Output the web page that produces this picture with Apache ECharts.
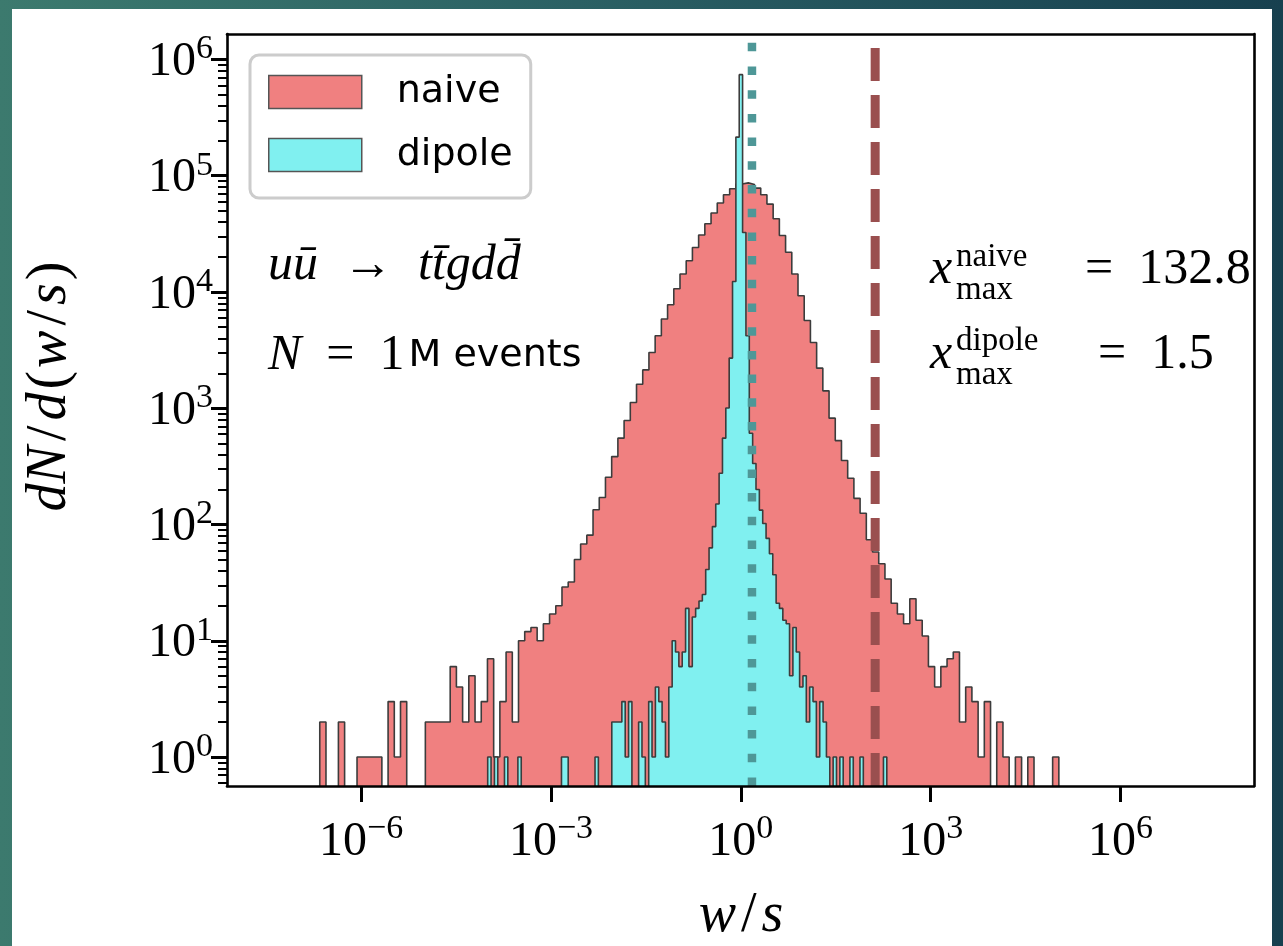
<!DOCTYPE html>
<html><head><meta charset="utf-8">
<script src="https://cdn.jsdelivr.net/npm/echarts@6/dist/echarts.min.js"></script>
<style>
html,body{margin:0;padding:0;width:1283px;height:946px;overflow:hidden;
background:linear-gradient(90deg,#3c7a6e 0%,#2b6064 45%,#17404f 100%);}
#card{position:absolute;left:12px;top:9px;width:1260px;height:937px;background:#fff;}
#chart{position:absolute;left:0;top:0;width:1283px;height:946px;}
</style></head><body><div id="card"></div><div id="chart"></div>
<script>
// ---- data (log10 of w/s for bin ranges, raw counts per bin) ----
const naiveLogMin = -6.654, naiveLogMax = 5.026;
const naiveCounts = [2,0,0,2,0,0,1,1,1,1, 0,3,1,3,0,0,0,2,2,2, 2,6,4,2,5,2,3,7,1,3,
 8,2,10,12,13,10,14,17,20,29, 32,50,68,81,134,171,255,384,553,784,
 1120,1611,2138,3013,4200,5850,7770,10660,14270,18540,
 24150,30900,38640,47760,58240,68600,77200,84800,86800,84000,
 78300,68600,57000,42700,30600,22000,14270,9270,5690,3675,
 2213,1412,822,527,355,250,168,125,74,58,
 46,34,21,17,14,23,15,11,6,4, 6,7,8,2,4,3,1,3,0,2, 1,0,1,0,1,0,0,0,1];
const dipoleLogMin = -4.0, dipoleLogMax = 2.307;
const dipoleCounts = [1,0,1,0,0,1,0,0,0,1, 0,0,0,0,0,0,0,0,0,0,
 0,0,1,1,0,0,0,0,0,0, 0,0,1,0,0,0,0,2,2,2,
 3,1,3,0,0,2,1,0,3,1, 4,3,2,1,4,10,8,6,8,19,
 6,16,19,22,25,41,63,96,150,276, 553,1004,2700,12300,215000,740000,32500,4200,610,335,
 200,133,102,76,56,37,21,19,15,14, 5,13,8,4,5,2,4,3,1,3,
 2,1,0,1,0,1,0,0,1,0, 0,1,0,0,0,0,0,0,1];
const naiveXmax = 132.8, dipoleXmax = 1.5;
const xTickExps = [-6,-3,0,3,6];
const yTickExps = [0,1,2,3,4,5,6];
const X_MIN = -8.12, X_MAX = 8.11, Y_MIN = -0.249, Y_MAX = 6.219;

const yMinor = [];
for (let e = -1; e <= 6; e++) for (let k = 2; k <= 9; k++) {
  const v = Math.log10(k) + e; if (v > Y_MIN && v < Y_MAX) yMinor.push(v);
}
function stepPoints(lo, hi, counts) {
  const n = counts.length, w = (hi - lo) / n, floor = Y_MIN - 1, pts = [[lo, floor]];
  counts.forEach((c, i) => { const y = c > 0 ? Math.log10(c) : floor; pts.push([lo + i*w, y], [lo + (i+1)*w, y]); });
  pts.push([hi, floor]); return pts;
}
const SERIF = 'Liberation Serif', SANS = 'DejaVu Sans';
function powLabel(v) { const e = Math.round(v); return '{b|10}{s|' + (e < 0 ? '\u2212' + (-e) : e) + '}'; }
const labRich = {
  b: {fontFamily: SERIF, fontSize: 48, color: '#000', lineHeight: 54, verticalAlign: 'bottom'},
  s: {fontFamily: SERIF, fontSize: 34, color: '#000', lineHeight: 32, verticalAlign: 'top'}
};
const frame = {show: true, onZero: false, lineStyle: {color: '#000', width: 2.6}};
const it = {fontFamily: SERIF, fontStyle: 'italic', fontSize: 50, fill: '#000'};
const rm = {fontFamily: SERIF, fontSize: 50, fill: '#000'};
const labI = Object.assign({}, it, {fontSize: 56});
const labR = Object.assign({}, rm, {fontSize: 56, padding: [0, 5, 0, 5]});
const labP = Object.assign({}, rm, {fontSize: 56, padding: [0, 3, 0, 3]});

const chart = echarts.init(document.getElementById('chart'), null, {renderer: 'canvas'});
chart.setOption({
  animation: false, backgroundColor: 'transparent',
  grid: {left: 227, right: 29, top: 34, bottom: 160, containLabel: false},
  legend: {
    show: true, orient: 'vertical', left: 250, top: 55, selectedMode: false,
    padding: [18, 18, 24, 18], itemWidth: 93, itemHeight: 33, itemGap: 25,
    backgroundColor: '#fff', borderColor: '#cccccc', borderWidth: 3, borderRadius: 9,
    textStyle: {fontFamily: SANS, fontSize: 38, color: '#000', padding: [0, 0, 0, 30], lineHeight: 33},
    data: [
      {name: 'naive', icon: 'rect', itemStyle: {color: '#F08080', borderColor: '#555', borderWidth: 1.5}},
      {name: 'dipole', icon: 'rect', itemStyle: {color: '#80F0F0', borderColor: '#555', borderWidth: 1.5}}
    ]
  },
  xAxis: [
    {type: 'value', min: X_MIN, max: X_MAX, position: 'bottom', z: 10, axisLine: frame,
     splitLine: {show: false},
     axisTick: {show: true, customValues: xTickExps, length: 16, lineStyle: {color: '#000', width: 3}},
     axisLabel: {show: true, customValues: xTickExps, margin: 26, formatter: powLabel, rich: labRich}},
    {type: 'value', min: X_MIN, max: X_MAX, position: 'top', z: 10, axisLine: frame,
     splitLine: {show: false}, axisTick: {show: false}, axisLabel: {show: false}}
  ],
  yAxis: [
    {type: 'value', min: Y_MIN, max: Y_MAX, position: 'left', z: 10, axisLine: frame,
     splitLine: {show: false},
     axisTick: {show: true, customValues: yTickExps, length: 16, lineStyle: {color: '#000', width: 3}},
     axisLabel: {show: true, customValues: yTickExps, margin: 14, formatter: powLabel, rich: labRich}},
    {type: 'value', min: Y_MIN, max: Y_MAX, position: 'left', z: 10, axisLine: {show: false, onZero: false},
     splitLine: {show: false},
     axisTick: {show: true, customValues: yMinor, length: 9, lineStyle: {color: '#000', width: 2}},
     axisLabel: {show: false}},
    {type: 'value', min: Y_MIN, max: Y_MAX, position: 'right', z: 10, axisLine: frame,
     splitLine: {show: false}, axisTick: {show: false}, axisLabel: {show: false}}
  ],
  series: [
    {name: 'naive', type: 'line', xAxisIndex: 0, yAxisIndex: 0, data: stepPoints(naiveLogMin, naiveLogMax, naiveCounts),
     showSymbol: false, symbol: 'none', color: '#F08080', z: 2,
     lineStyle: {color: '#3c3c3c', width: 1.6}, areaStyle: {color: '#F08080', opacity: 1, origin: 'start'}},
    {name: 'dipole', type: 'line', xAxisIndex: 0, yAxisIndex: 0, data: stepPoints(dipoleLogMin, dipoleLogMax, dipoleCounts),
     showSymbol: false, symbol: 'none', color: '#80F0F0', z: 3,
     lineStyle: {color: '#3c3c3c', width: 1.6}, areaStyle: {color: '#80F0F0', opacity: 1, origin: 'start'}},
    {name: 'xmax naive', type: 'line', xAxisIndex: 0, yAxisIndex: 0, z: 4, showSymbol: false, symbol: 'none',
     data: [[Math.log10(naiveXmax), Y_MIN], [Math.log10(naiveXmax), Y_MAX]],
     lineStyle: {color: '#9a4f4f', width: 9, type: [33, 14], cap: 'butt'}},
    {name: 'xmax dipole', type: 'line', xAxisIndex: 0, yAxisIndex: 0, z: 4, showSymbol: false, symbol: 'none',
     data: [[Math.log10(dipoleXmax), Y_MIN], [Math.log10(dipoleXmax), Y_MAX]],
     lineStyle: {color: '#4e9797', width: 8.5, type: [8.5, 15.2], cap: 'butt'}}
  ],
  graphic: [
    {type: 'text', x: 50, y: 385, rotation: Math.PI / 2, z: 20,
     style: {text: '{i|dN}{r|/}{i|d}{p|(}{i|w}{r|/}{i|s}{p|)}', align: 'center', verticalAlign: 'middle',
       rich: {i: labI, r: labR, p: labP}}},
    {type: 'text', x: 741, y: 916, z: 20,
     style: {text: '{i|w}{r|/}{i|s}', align: 'center', verticalAlign: 'middle', rich: {i: labI, r: labR}}},
    {type: 'text', x: 268, y: 266, z: 20,
     style: {text: '{i|u\u016B}{r|  \u2192  }{i|tt\u0304gdd\u0304}', verticalAlign: 'middle', rich: {i: it, r: rm}}},
    {type: 'text', x: 268, y: 356, z: 20,
     style: {text: '{i|N}{r|  =  1}{s|M events}', verticalAlign: 'middle',
       rich: {i: it, r: rm, s: {fontFamily: SANS, fontSize: 38, fill: '#000', padding: [0, 0, 0, 4]}}}},
    {type: 'text', x: 930, y: 270, z: 20, style: {text: 'x', fontFamily: SERIF, fontStyle: 'italic', fontSize: 50, fill: '#000', verticalAlign: 'middle'}},
    {type: 'text', x: 956, y: 257, z: 20, style: {text: 'naive', fontFamily: SERIF, fontSize: 33, fill: '#000', verticalAlign: 'middle'}},
    {type: 'text', x: 956, y: 290, z: 20, style: {text: 'max', fontFamily: SERIF, fontSize: 33, fill: '#000', verticalAlign: 'middle'}},
    {type: 'text', x: 1085, y: 270, z: 20, style: {text: '=  132.8', fontFamily: SERIF, fontSize: 50, fill: '#000', verticalAlign: 'middle'}},
    {type: 'text', x: 930, y: 355, z: 20, style: {text: 'x', fontFamily: SERIF, fontStyle: 'italic', fontSize: 50, fill: '#000', verticalAlign: 'middle'}},
    {type: 'text', x: 956, y: 341, z: 20, style: {text: 'dipole', fontFamily: SERIF, fontSize: 33, fill: '#000', verticalAlign: 'middle'}},
    {type: 'text', x: 956, y: 375, z: 20, style: {text: 'max', fontFamily: SERIF, fontSize: 33, fill: '#000', verticalAlign: 'middle'}},
    {type: 'text', x: 1098, y: 355, z: 20, style: {text: '=  1.5', fontFamily: SERIF, fontSize: 50, fill: '#000', verticalAlign: 'middle'}}
  ]
});
</script></body></html>
